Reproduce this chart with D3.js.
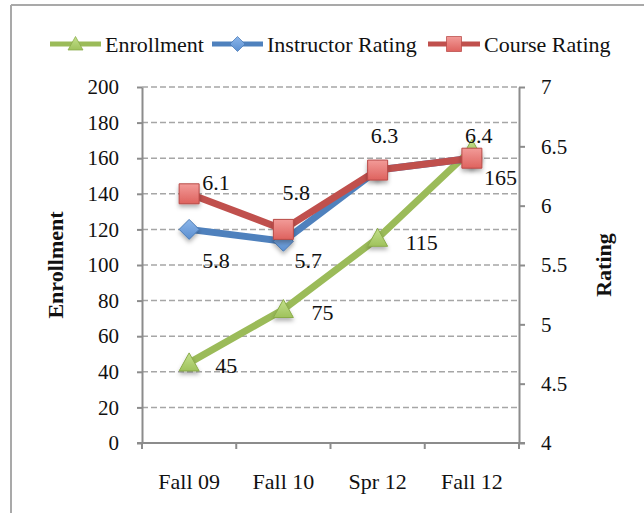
<!DOCTYPE html>
<html>
<head>
<meta charset="utf-8">
<script src="https://cdn.jsdelivr.net/npm/d3@7"></script>
<style>
  body { margin: 0; background: #fff; }
  text { font-family: "Liberation Serif", "Times New Roman", serif; fill: #111; }
</style>
</head>
<body>
<div id="chart"></div>
<script>
// -------- data --------
var terms = ["Fall 09", "Fall 10", "Spr 12", "Fall 12"];
var enrollment = [45, 75, 115, 165];
var instructorRating = [5.8, 5.7, 6.3, 6.4];
var courseRating = [6.1, 5.8, 6.3, 6.4];
var enrollTicks = [0, 20, 40, 60, 80, 100, 120, 140, 160, 180, 200];
var ratingTicks = [4, 4.5, 5, 5.5, 6, 6.5, 7];

var serif = "Liberation Serif, Times New Roman, serif";

var svgWidth = 644, svgHeight = 515;
var margin = { top: 87, right: 125, bottom: 72, left: 142 };
var width = svgWidth - margin.left - margin.right;
var height = svgHeight - margin.top - margin.bottom;

var svg = d3.select("#chart").append("svg")
  .attr("width", svgWidth)
  .attr("height", svgHeight);

// gradients + shadow for the markers
var defs = svg.append("defs");
function grad(id, c1, c2) {
  var g = defs.append("linearGradient").attr("id", id)
    .attr("x1", 0).attr("y1", 0).attr("x2", 0).attr("y2", 1);
  g.append("stop").attr("offset", "0%").attr("stop-color", c1);
  g.append("stop").attr("offset", "100%").attr("stop-color", c2);
}
grad("gGreen", "#c3e08c", "#9fc25c");
grad("gBlue", "#8cb6ea", "#5b8fd0");
grad("gRed", "#f29b98", "#de625e");
defs.append("filter").attr("id", "shadow")
  .attr("x", "-50%").attr("y", "-50%").attr("width", "200%").attr("height", "200%")
  .append("feDropShadow")
  .attr("dx", 0).attr("dy", 3).attr("stdDeviation", 2)
  .attr("flood-color", "#000").attr("flood-opacity", 0.3);

// outer frame (only top and left edges are in view)
svg.append("line").attr("x1", 11).attr("y1", 5).attr("x2", 644).attr("y2", 5)
  .attr("stroke", "#a9a9a9").attr("stroke-width", 2);
svg.append("line").attr("x1", 11).attr("y1", 5).attr("x2", 11).attr("y2", 513)
  .attr("stroke", "#a9a9a9").attr("stroke-width", 2);

var chartGroup = svg.append("g")
  .attr("transform", `translate(${margin.left}, ${margin.top})`);

// scales
var xScale = d3.scaleBand().domain(terms).range([0, width]).padding(0);
var yLeft = d3.scaleLinear().domain([0, 200]).range([height, 0]);
var yRight = d3.scaleLinear().domain([4, 7]).range([height, 0]);
var cx = d => xScale(d) + xScale.bandwidth() / 2;

// dashed gridlines
chartGroup.append("g").selectAll("line")
  .data(enrollTicks.filter(d => d > 0))
  .enter().append("line")
  .attr("x1", 0).attr("x2", width)
  .attr("y1", d => yLeft(d)).attr("y2", d => yLeft(d))
  .attr("stroke", "#a6a6a6").attr("stroke-width", 1.5)
  .attr("stroke-dasharray", "6,3");

// axes
var axisColor = "#8c8c8c";
function styleAxis(g, size) {
  g.attr("font-family", serif);
  g.selectAll(".domain").attr("stroke", axisColor).attr("stroke-width", 2);
  g.selectAll(".tick line").attr("stroke", axisColor).attr("stroke-width", 2);
  g.selectAll(".tick text")
    .style("font-family", serif)
    .style("font-size", size + "px").attr("fill", "#111");
}

var leftAxis = chartGroup.append("g")
  .call(d3.axisLeft(yLeft).tickValues(enrollTicks).tickSize(5).tickSizeOuter(0).tickPadding(18));
styleAxis(leftAxis, 21);

var rightAxis = chartGroup.append("g")
  .attr("transform", `translate(${width}, 0)`)
  .call(d3.axisRight(yRight).tickValues(ratingTicks).tickSize(6).tickSizeOuter(0)
    .tickPadding(16).tickFormat(d3.format("")));
styleAxis(rightAxis, 21);

var bottomAxis = chartGroup.append("g")
  .attr("transform", `translate(0, ${height})`)
  .call(d3.axisBottom(xScale).tickSize(0).tickPadding(30));
styleAxis(bottomAxis, 22);
bottomAxis.selectAll(".domain").attr("d", `M-5,0H${width + 6}`);
// category boundary ticks
bottomAxis.append("g").selectAll("line")
  .data(d3.range(terms.length + 1))
  .enter().append("line")
  .attr("x1", i => i * xScale.step()).attr("x2", i => i * xScale.step())
  .attr("y1", 0).attr("y2", 6)
  .attr("stroke", axisColor).attr("stroke-width", 2);

// axis titles
chartGroup.append("text")
  .attr("transform", "rotate(-90)")
  .attr("x", -height / 2).attr("y", 63 - margin.left)
  .attr("text-anchor", "middle")
  .style("font-family", serif)
  .style("font-size", "22px").style("font-weight", "bold")
  .text("Enrollment");

chartGroup.append("text")
  .attr("transform", "rotate(-90)")
  .attr("x", -height / 2).attr("y", width + 92)
  .attr("text-anchor", "middle")
  .style("font-family", serif)
  .style("font-size", "22px").style("font-weight", "bold")
  .text("Rating");

// -------- series --------
// instructor labels for Spr 12 / Fall 12 sit under the course labels, so only one is drawn
var series = [
  { name: "Enrollment", values: enrollment, y: yLeft, color: "#9bbb59", fill: "url(#gGreen)",
    stroke: "#8aab4a", shape: "triangle",
    labelDx: [26, 28, 28, 12], labelDy: [2, 3, 4, 28], show: [1, 1, 1, 1] },
  { name: "Instructor Rating", values: instructorRating, y: yRight, color: "#4f81bd", fill: "url(#gBlue)",
    stroke: "#4a7ab5", shape: "diamond",
    labelDx: [13, 11, -7, -7], labelDy: [31, 19, -35, -23], show: [1, 1, 0, 0] },
  { name: "Course Rating", values: courseRating, y: yRight, color: "#c0504d", fill: "url(#gRed)",
    stroke: "#b84a47", shape: "square",
    labelDx: [13, -1, -7, -7], labelDy: [-12, -37, -35, -23], show: [1, 1, 1, 1] }
];

function markerPath(shape) {
  if (shape === "triangle") return "M0,-10L10,8L-10,8Z";
  if (shape === "diamond") return "M0,-10L10,0L0,10L-10,0Z";
  return "M-10,-10H10V10H-10Z";
}

var lineGen = d3.line();

series.forEach(function(s) {
  var pts = terms.map((t, i) => [cx(t), s.y(s.values[i])]);
  chartGroup.append("path")
    .attr("d", lineGen(pts))
    .attr("fill", "none")
    .attr("stroke", s.color)
    .attr("stroke-width", 7)
    .attr("stroke-linejoin", "round");

  chartGroup.append("g").selectAll("path")
    .data(pts)
    .enter().append("path")
    .attr("transform", d => `translate(${d[0]}, ${d[1]})`)
    .attr("d", markerPath(s.shape))
    .attr("fill", s.fill)
    .attr("stroke", s.stroke)
    .attr("stroke-width", 1)
    .attr("filter", "url(#shadow)");
});

// data labels on top
series.forEach(function(s) {
  var idx = d3.range(s.values.length).filter(i => s.show[i]);
  chartGroup.append("g").selectAll("text")
    .data(idx)
    .enter().append("text")
    .attr("x", i => cx(terms[i]) + s.labelDx[i])
    .attr("y", i => s.y(s.values[i]) + s.labelDy[i])
    .attr("dy", "0.35em")
    .attr("text-anchor", "start")
    .style("font-family", serif)
    .style("font-size", "22px")
    .text(i => s.values[i]);
});

// -------- legend --------
var legendItems = [
  { s: series[0], x: 50, w: 51 },
  { s: series[1], x: 212, w: 51 },
  { s: series[2], x: 428, w: 52 }
];
var legend = svg.append("g").attr("transform", "translate(0, 44)");
legendItems.forEach(function(it) {
  var g = legend.append("g").attr("transform", `translate(${it.x}, 0)`);
  g.append("line").attr("x1", 0).attr("x2", it.w)
    .attr("stroke", it.s.color).attr("stroke-width", 5);
  g.append("path")
    .attr("transform", `translate(${it.w / 2}, 0) scale(0.75)`)
    .attr("d", markerPath(it.s.shape))
    .attr("fill", it.s.fill)
    .attr("stroke", it.s.stroke)
    .attr("stroke-width", 1);
  g.append("text")
    .attr("x", it.w + 4).attr("dy", "0.35em")
    .style("font-family", serif)
    .style("font-size", "22px")
    .text(it.s.name);
});
</script>
</body>
</html>
